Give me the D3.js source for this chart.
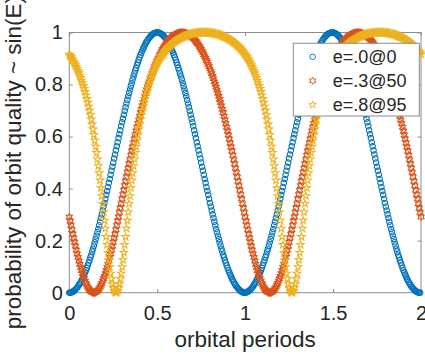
<!DOCTYPE html>
<html>
<head>
<meta charset="utf-8">
<script src="https://cdn.jsdelivr.net/npm/d3@7"></script>
<style>
body { margin: 0; background: #fff; }
text { font-family: "Liberation Sans", Arial, sans-serif; fill: #262626; }
</style>
</head>
<body>
<div class="chart"></div>
<script>
// sample times, orbital periods 0..2 in steps of 0.005
var periods = d3.range(401).map(function(i) { return i / 200; });

var xTicks = [0, 0.5, 1, 1.5, 2];
var yTicks = [0, 0.2, 0.4, 0.6, 0.8, 1];
var legendLabels = ["e=.0@0", "e=.3@50", "e=.8@95"];

// e=.0@0
var e0 = [
0,0,.001,.002,.004,.006,.009,.012,.016,.02,
.024,.03,.035,.041,.048,.054,.062,.07,.078,.086,
.095,.105,.115,.125,.136,.146,.158,.169,.181,.194,
.206,.219,.232,.245,.259,.273,.287,.301,.316,.331,
.345,.361,.376,.391,.406,.422,.437,.453,.469,.484,
.5,
.516,.531,.547,.563,.578,.594,.609,.624,.64,.655,
.669,.684,.699,.713,.727,.741,.755,.768,.781,.794,
.806,.819,.831,.842,.854,.864,.875,.885,.895,.905,
.914,.922,.93,.938,.945,.952,.959,.965,.97,.976,
.98,.984,.988,.991,.994,.996,.998,.999,1,1,
1,.999,.998,.996,.994,.991,.988,.984,.98,
.976,.97,.965,.959,.952,.945,.938,.93,.922,.914,
.905,.895,.885,.875,.864,.854,.842,.831,.819,.806,
.794,.781,.768,.755,.741,.727,.713,.699,.684,.669,
.655,.64,.624,.609,.594,.578,.563,.547,.531,.516,
.5,
.484,.469,.453,.437,.422,.406,.391,.376,.361,.345,
.331,.316,.301,.287,.273,.259,.245,.232,.219,.206,
.194,.181,.169,.158,.146,.136,.125,.115,.105,.095,
.086,.078,.07,.062,.054,.048,.041,.035,.03,.024,
.02,.016,.012,.009,.006,.004,.002,.001,0,0,
.001,.002,.004,.006,.009,.012,.016,.02,
.024,.03,.035,.041,.048,.054,.062,.07,.078,.086,
.095,.105,.115,.125,.136,.146,.158,.169,.181,.194,
.206,.219,.232,.245,.259,.273,.287,.301,.316,.331,
.345,.361,.376,.391,.406,.422,.437,.453,.469,.484,
.5,
.516,.531,.547,.563,.578,.594,.609,.624,.64,.655,
.669,.684,.699,.713,.727,.741,.755,.768,.781,.794,
.806,.819,.831,.842,.854,.864,.875,.885,.895,.905,
.914,.922,.93,.938,.945,.952,.959,.965,.97,.976,
.98,.984,.988,.991,.994,.996,.998,.999,1,1,
1,.999,.998,.996,.994,.991,.988,.984,.98,
.976,.97,.965,.959,.952,.945,.938,.93,.922,.914,
.905,.895,.885,.875,.864,.854,.842,.831,.819,.806,
.794,.781,.768,.755,.741,.727,.713,.699,.684,.669,
.655,.64,.624,.609,.594,.578,.563,.547,.531,.516,
.5,
.484,.469,.453,.437,.422,.406,.391,.376,.361,.345,
.331,.316,.301,.287,.273,.259,.245,.232,.219,.206,
.194,.181,.169,.158,.146,.136,.125,.115,.105,.095,
.086,.078,.07,.062,.054,.048,.041,.035,.03,.024,
.02,.016,.012,.009,.006,.004,.002,.001,0,0
];

// e=.3@50
var e3 = [
.291,.275,.258,.242,.225,.21,.194,.179,.164,.149,
.136,.122,.109,.097,.085,.074,.063,.054,.045,.036,
.029,.022,.016,.011,.007,.004,.002,0,0,
0,.002,.004,.007,.011,.016,.022,.029,.036,
.045,.054,.063,.074,.085,.097,.109,.122,.136,.149,
.164,.179,.194,.21,.225,.242,.258,.275,.291,.308,
.325,.342,.36,.377,.394,.411,.428,.445,.462,.478,
.495,.511,.528,.544,.56,.575,.591,.606,.621,.636,
.65,.664,.678,.692,.705,.718,.731,.743,.755,.767,
.779,.79,.801,.811,.822,.832,.842,.851,.86,.869,
.877,.886,.893,.901,.908,.915,.922,.929,.935,.941,
.946,.952,.957,.961,.966,.97,.974,.977,.981,.984,
.987,.989,.991,.993,.995,.997,.998,.999,.999,1,
1,
1,.999,.999,.998,.997,.995,.993,.991,.989,.987,
.984,.981,.977,.974,.97,.966,.961,.957,.952,.946,
.941,.935,.929,.922,.915,.908,.901,.893,.886,.877,
.869,.86,.851,.842,.832,.822,.811,.801,.79,.779,
.767,.755,.743,.731,.718,.705,.692,.678,.664,.65,
.636,.621,.606,.591,.575,.56,.544,.528,.511,.495,
.478,.462,.445,.428,.411,.394,.377,.36,.342,.325,
.308,.291,.275,.258,.242,.225,.21,.194,.179,.164,
.149,.136,.122,.109,.097,.085,.074,.063,.054,.045,
.036,.029,.022,.016,.011,.007,.004,.002,0,0,
0,.002,.004,.007,.011,.016,.022,.029,.036,
.045,.054,.063,.074,.085,.097,.109,.122,.136,.149,
.164,.179,.194,.21,.225,.242,.258,.275,.291,.308,
.325,.342,.36,.377,.394,.411,.428,.445,.462,.478,
.495,.511,.528,.544,.56,.575,.591,.606,.621,.636,
.65,.664,.678,.692,.705,.718,.731,.743,.755,.767,
.779,.79,.801,.811,.822,.832,.842,.851,.86,.869,
.877,.886,.893,.901,.908,.915,.922,.929,.935,.941,
.946,.952,.957,.961,.966,.97,.974,.977,.981,.984,
.987,.989,.991,.993,.995,.997,.998,.999,.999,1,
1,
1,.999,.999,.998,.997,.995,.993,.991,.989,.987,
.984,.981,.977,.974,.97,.966,.961,.957,.952,.946,
.941,.935,.929,.922,.915,.908,.901,.893,.886,.877,
.869,.86,.851,.842,.832,.822,.811,.801,.79,.779,
.767,.755,.743,.731,.718,.705,.692,.678,.664,.65,
.636,.621,.606,.591,.575,.56,.544,.528,.511,.495,
.478,.462,.445,.428,.411,.394,.377,.36,.342,.325,
.308,.291
];

// e=.8@95
var e8 = [
.916,.911,.906,.9,
.894,.888,.882,.875,.868,.86,.852,.844,.835,.826,
.816,.806,.795,.784,.772,.759,.745,.731,.716,.7,
.684,.666,.647,.628,.607,.585,.562,.538,.513,.487,
.46,.432,.402,.372,.342,.31,.278,.247,.215,.184,
.154,.126,.099,.074,.053,.034,.02,.009,.002,0,
.002,.009,.02,.034,.053,.074,.099,.126,.154,
.184,.215,.247,.278,.31,.342,.372,.402,.432,.46,
.487,.513,.538,.562,.585,.607,.628,.647,.666,.684,
.7,.716,.731,.745,.759,.772,.784,.795,.806,.816,
.826,.835,.844,.852,.86,.868,.875,.882,.888,.894,
.9,.906,.911,.916,.92,.925,.929,.933,.937,.941,
.945,.948,.951,.954,.957,.96,.963,.965,.968,.97,
.972,.974,.976,.978,.98,.981,.983,.984,.986,.987,
.988,.99,.991,.992,.993,.994,.994,.995,.996,.997,
.997,.998,.998,.999,.999,.999,1,1,1,1,
1,
1,1,1,1,.999,.999,.999,.998,.998,.997,
.997,.996,.995,.994,.994,.993,.992,.991,.99,.988,
.987,.986,.984,.983,.981,.98,.978,.976,.974,.972,
.97,.968,.965,.963,.96,.957,.954,.951,.948,.945,
.941,.937,.933,.929,.925,.92,.916,.911,.906,.9,
.894,.888,.882,.875,.868,.86,.852,.844,.835,.826,
.816,.806,.795,.784,.772,.759,.745,.731,.716,.7,
.684,.666,.647,.628,.607,.585,.562,.538,.513,.487,
.46,.432,.402,.372,.342,.31,.278,.247,.215,.184,
.154,.126,.099,.074,.053,.034,.02,.009,.002,0,
.002,.009,.02,.034,.053,.074,.099,.126,.154,
.184,.215,.247,.278,.31,.342,.372,.402,.432,.46,
.487,.513,.538,.562,.585,.607,.628,.647,.666,.684,
.7,.716,.731,.745,.759,.772,.784,.795,.806,.816,
.826,.835,.844,.852,.86,.868,.875,.882,.888,.894,
.9,.906,.911,.916,.92,.925,.929,.933,.937,.941,
.945,.948,.951,.954,.957,.96,.963,.965,.968,.97,
.972,.974,.976,.978,.98,.981,.983,.984,.986,.987,
.988,.99,.991,.992,.993,.994,.994,.995,.996,.997,
.997,.998,.998,.999,.999,.999,1,1,1,1,
1,
1,1,1,1,.999,.999,.999,.998,.998,.997,
.997,.996,.995,.994,.994,.993,.992,.991,.99,.988,
.987,.986,.984,.983,.981,.98,.978,.976,.974,.972,
.97,.968,.965,.963,.96,.957,.954,.951,.948,.945,
.941,.937,.933,.929,.925,.92,.916
];

var W = 425, H = 356;
var margin = {top: 32.5, right: 4, bottom: 63.3, left: 69.3},
    width = W - margin.left - margin.right,
    height = H - margin.top - margin.bottom;

/* custom hexagram marker */
var symbolHexagram = {
  draw: function(context, size) {
    var r = Math.sqrt(size), ri = r / Math.sqrt(3);
    for (var k = 0; k < 12; k++) {
      var a = -Math.PI / 2 + k * Math.PI / 6, rr = k % 2 ? ri : r;
      if (k === 0) context.moveTo(rr * Math.cos(a), rr * Math.sin(a));
      else context.lineTo(rr * Math.cos(a), rr * Math.sin(a));
    }
    context.closePath();
  }
};

var series = [
  {name: legendLabels[0], values: e0, color: "#0072BD", symbol: d3.symbol().type(d3.symbolCircle).size(24)},
  {name: legendLabels[1], values: e3, color: "#D95319", symbol: d3.symbol().type(symbolHexagram).size(12.5)},
  {name: legendLabels[2], values: e8, color: "#EDB120", symbol: d3.symbol().type(d3.symbolStar).size(17)}
];

var x = d3.scaleLinear().domain([0, 2]).range([0, width]);
var y = d3.scaleLinear().domain([0, 1]).range([height, 0]);

var svgRoot = d3.select(".chart").append("svg")
    .attr("width", W)
    .attr("height", H);

var svg = svgRoot.append("g")
    .attr("transform", "translate(" + margin.left + "," + margin.top + ")");

var fmt = function(d) { return String(d); };

// axes (ticks inward, box on)
var gx = svg.append("g")
    .attr("transform", "translate(0," + height + ")")
    .call(d3.axisBottom(x).tickValues(xTicks).tickFormat(fmt).tickSizeInner(-3.5).tickSizeOuter(0).tickPadding(13));
var gxt = svg.append("g")
    .call(d3.axisTop(x).tickValues(xTicks).tickFormat("").tickSizeInner(-3.5).tickSizeOuter(0));
var gy = svg.append("g")
    .call(d3.axisLeft(y).tickValues(yTicks).tickFormat(fmt).tickSizeInner(-3.5).tickSizeOuter(0).tickPadding(6.5));
var gyr = svg.append("g")
    .attr("transform", "translate(" + width + ",0)")
    .call(d3.axisRight(y).tickValues(yTicks).tickFormat("").tickSizeInner(-3.5).tickSizeOuter(0));

[gx, gxt, gy, gyr].forEach(function(g) {
  g.select(".domain").remove();
  g.selectAll(".tick line").attr("stroke", "#8c8c8c");
  g.selectAll(".tick text").attr("font-size", 20).attr("fill", "#262626")
    .attr("font-family", "'Liberation Sans', Arial, sans-serif");
});

svg.append("rect")
    .attr("width", width)
    .attr("height", height)
    .attr("fill", "none")
    .attr("stroke", "#8c8c8c")
    .attr("stroke-width", 1);

// markers
series.forEach(function(s) {
  svg.append("g")
    .selectAll("path")
    .data(s.values)
    .enter().append("path")
    .attr("transform", function(d, i) { return "translate(" + x(periods[i]) + "," + y(d) + ")"; })
    .attr("d", s.symbol)
    .attr("fill", "none")
    .attr("stroke", s.color)
    .attr("stroke-width", 1.05);
});

// labels
svg.append("text")
    .attr("x", width / 2)
    .attr("y", height + 54)
    .attr("text-anchor", "middle")
    .attr("font-size", 22.5)
    .text("orbital periods");

svg.append("text")
    .attr("transform", "translate(" + (21 - margin.left) + "," + (height / 2) + ") rotate(-90)")
    .attr("text-anchor", "middle")
    .attr("font-size", 22.5)
    .text("probability of orbit quality ~ sin(E)");

// legend
var lg = svgRoot.append("g").attr("transform", "translate(293.3,43.3)");
lg.append("rect")
    .attr("width", 126)
    .attr("height", 72.7)
    .attr("fill", "#fff")
    .attr("stroke", "#8c8c8c")
    .attr("stroke-width", 1);

series.forEach(function(s, i) {
  var row = lg.append("g").attr("transform", "translate(0," + (13.5 + i * 24) + ")");
  row.append("path")
    .attr("transform", "translate(19.4,0)")
    .attr("d", s.symbol)
    .attr("fill", "none")
    .attr("stroke", s.color)
    .attr("stroke-width", 0.9);
  row.append("text")
    .attr("x", 39.4)
    .attr("y", 6.3)
    .attr("font-size", 18)
    .text(s.name);
});
</script>
</body>
</html>
